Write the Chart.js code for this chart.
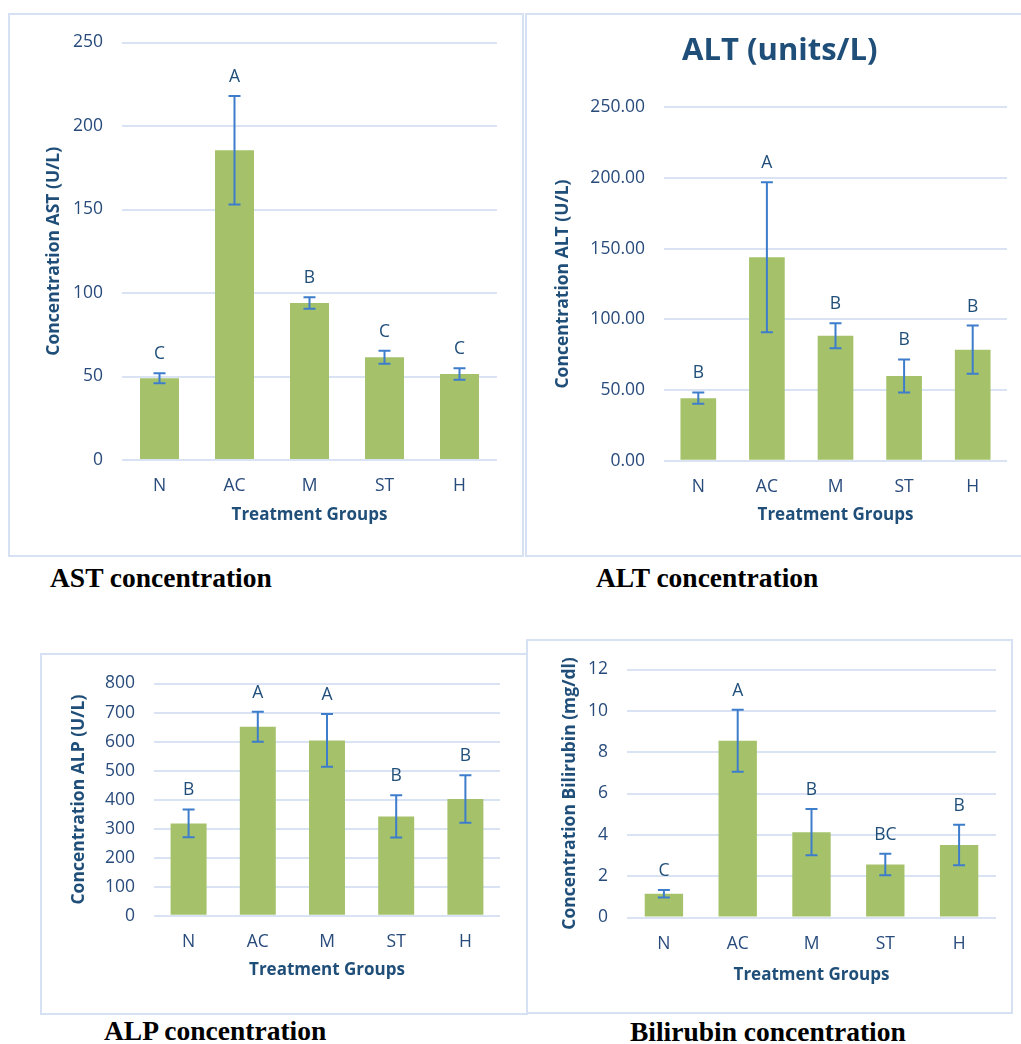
<!DOCTYPE html>
<html>
<head>
<meta charset="utf-8">
<script src="https://cdn.jsdelivr.net/npm/chart.js@4.4.1/dist/chart.umd.min.js"></script>
<style>
  html, body { margin: 0; padding: 0; background: #fff; overflow: hidden; width: 1021px; height: 1044px; }
  .panel { position: absolute; box-sizing: border-box; border: 2px solid #D6E2F3; }
  canvas { position: absolute; }
  .cap { position: absolute; font-family: 'Liberation Serif', 'Times New Roman', serif; font-weight: bold;
         font-size: 27.5px; line-height: 27px; color: #000; white-space: nowrap; }
</style>
</head>
<body>
<div class="panel" style="left:8px;top:13px;width:516px;height:544px"></div>
<div class="panel" style="left:525px;top:13px;width:520px;height:544px"></div>
<div class="panel" style="left:40px;top:653px;width:488px;height:362px"></div>
<div class="panel" style="left:526px;top:639px;width:487px;height:375px"></div>

<canvas id="ast"></canvas>
<canvas id="alt"></canvas>
<canvas id="alp"></canvas>
<canvas id="bili"></canvas>

<div class="cap" style="left:50px;top:564px">AST concentration</div>
<div class="cap" style="left:596px;top:564px">ALT concentration</div>
<div class="cap" style="left:104px;top:1017px">ALP concentration</div>
<div class="cap" style="left:630px;top:1018px">Bilirubin concentration</div>

<script>
// Treatment groups shared by all four panels
const groups = ['N', 'AC', 'M', 'ST', 'H'];

// AST (U/L): group means, error (SD) and significance letters
const astMean    = [49, 185.5, 94, 61.5, 51.5];
const astErr     = [3, 32.5, 3.5, 3.9, 3.4];
const astLetters = ['C', 'A', 'B', 'C', 'C'];
const astTicks   = [0, 50, 100, 150, 200, 250];

// ALT (U/L)
const altMean    = [44.3, 144, 88.4, 60, 78.6];
const altErr     = [4, 53, 8.8, 11.7, 17];
const altLetters = ['B', 'A', 'B', 'B', 'B'];
const altTicks   = [0, 50, 100, 150, 200, 250];

// ALP (U/L)
const alpMean    = [318, 651, 604, 342, 402];
const alpErr     = [48, 52, 91, 73, 82];
const alpLetters = ['B', 'A', 'A', 'B', 'B'];
const alpTicks   = [0, 100, 200, 300, 400, 500, 600, 700, 800];

// Bilirubin (mg/dl)
const biliMean    = [1.15, 8.55, 4.13, 2.56, 3.51];
const biliErr     = [0.18, 1.5, 1.12, 0.52, 0.98];
const biliLetters = ['C', 'A', 'B', 'BC', 'B'];
const biliTicks   = [0, 2, 4, 6, 8, 10, 12];

const FONT = "'Open Sans', sans-serif";
const TEXT = '#1F4E79';
const TICK = '#284B7C';
const GRID = '#D9E3F3';
const BAR  = '#A5C26B';
const ERR  = '#3D7DCB';

const TICK_SIZE = 17.5;
const X_TITLE_SIZE = 17;
const Y_TITLE_SIZE = 17.5;

// Error bars with caps and the letter above each bar
const errorBars = {
  id: 'errorBars',
  afterDatasetsDraw(chart) {
    const ds = chart.data.datasets[0];
    const meta = chart.getDatasetMeta(0);
    const y = chart.scales.y;
    const ctx = chart.ctx;
    ctx.save();
    meta.data.forEach((bar, i) => {
      const m = ds.data[i], e = ds.errors[i];
      const yTop = y.getPixelForValue(m + e);
      const yBot = y.getPixelForValue(m - e);
      const x = bar.x;
      ctx.strokeStyle = ERR;
      ctx.lineWidth = 2;
      ctx.beginPath();
      ctx.moveTo(x, yTop); ctx.lineTo(x, yBot);
      ctx.moveTo(x - 6, yTop); ctx.lineTo(x + 6, yTop);
      ctx.moveTo(x - 6, yBot); ctx.lineTo(x + 6, yBot);
      ctx.stroke();
      ctx.fillStyle = TEXT;
      ctx.font = TICK_SIZE + "px " + FONT;
      ctx.textAlign = 'center';
      ctx.textBaseline = 'middle';
      ctx.fillText(ds.letters[i], x, yTop - 19);
    });
    ctx.restore();
  }
};

function buildChart(id, geo, spec) {
  const [bx, by, bw, bh] = geo.box;
  const l = geo.area[0] - bx, t = geo.area[1] - by, r = geo.area[2] - bx, b = geo.area[3] - by;
  const yLH = Y_TITLE_SIZE * 1.2, xLH = X_TITLE_SIZE * 1.2;
  const scaleLeft = geo.yTitleX - bx - yLH / 2;
  const yWidth = l - scaleLeft;
  const xBottom = geo.xTitleY - by + xLH / 2;
  const xHeight = xBottom - b;

  let padTop = t;
  let titleOpts = { display: false };
  if (geo.title) {
    const lh = geo.title.size * 1.2;
    const cy = geo.title.y - by;
    const pt = cy - lh / 2;
    padTop = 0;
    titleOpts = {
      display: true, text: geo.title.text, color: TEXT,
      font: { family: FONT, size: geo.title.size, weight: 'bold' },
      padding: { top: pt, bottom: t - pt - lh }
    };
  }

  const canvas = document.getElementById(id);
  canvas.width = bw; canvas.height = bh;
  canvas.style.left = bx + 'px'; canvas.style.top = by + 'px';
  canvas.style.width = bw + 'px'; canvas.style.height = bh + 'px';

  return new Chart(canvas, {
    type: 'bar',
    data: {
      labels: groups,
      datasets: [{
        data: spec.mean,
        errors: spec.err,
        letters: spec.letters,
        backgroundColor: BAR,
        borderWidth: 0,
        barPercentage: 0.52,
        categoryPercentage: 1
      }]
    },
    options: {
      responsive: false,
      animation: false,
      devicePixelRatio: 1,
      layout: { padding: { left: scaleLeft, right: bw - r, top: padTop, bottom: bh - xBottom } },
      plugins: {
        legend: { display: false },
        tooltip: { enabled: false },
        title: titleOpts
      },
      scales: {
        x: {
          offset: true,
          grid: { display: false, drawTicks: false },
          border: { display: false },
          ticks: { padding: 16, color: TICK, font: { family: FONT, size: TICK_SIZE } },
          title: { display: true, text: 'Treatment Groups', color: TEXT, padding: 0,
                   font: { family: FONT, size: X_TITLE_SIZE, weight: 'bold' } },
          afterFit: s => { s.height = xHeight; }
        },
        y: {
          min: spec.ticks[0],
          max: spec.ticks[spec.ticks.length - 1],
          grid: { color: GRID, lineWidth: 2, drawTicks: false },
          border: { display: false },
          ticks: {
            padding: 19, color: TICK, font: { family: FONT, size: TICK_SIZE },
            callback: v => Number(v).toFixed(spec.decimals)
          },
          afterBuildTicks: s => { s.ticks = spec.ticks.map(v => ({ value: v })); },
          title: { display: true, text: spec.yTitle, color: TEXT, padding: 0,
                   font: { family: FONT, size: Y_TITLE_SIZE, weight: 'bold' } },
          afterFit: s => { s.width = yWidth; }
        }
      }
    },
    plugins: [errorBars]
  });
}

function drawAll() {
  buildChart('ast',
    { box: [8, 13, 516, 544], area: [122, 38, 497, 460], yTitleX: 54, xTitleY: 515 },
    { mean: astMean, err: astErr, letters: astLetters, ticks: astTicks, decimals: 0,
      yTitle: 'Concentration AST (U/L)' });

  buildChart('alt',
    { box: [526, 13, 506, 544], area: [664, 107.3, 1007, 460.8], yTitleX: 563, xTitleY: 515,
      title: { text: 'ALT (units/L)', size: 31, y: 51 } },
    { mean: altMean, err: altErr, letters: altLetters, ticks: altTicks, decimals: 2,
      yTitle: 'Concentration ALT (U/L)' });

  buildChart('alp',
    { box: [41, 654, 485, 360], area: [154, 677.7, 500, 915.7], yTitleX: 79, xTitleY: 970 },
    { mean: alpMean, err: alpErr, letters: alpLetters, ticks: alpTicks, decimals: 0,
      yTitle: 'Concentration ALP (U/L)' });

  buildChart('bili',
    { box: [527, 640, 485, 373], area: [627, 664.7, 996, 917.5], yTitleX: 570, xTitleY: 975 },
    { mean: biliMean, err: biliErr, letters: biliLetters, ticks: biliTicks, decimals: 0,
      yTitle: 'Concentration Bilirubin (mg/dl)' });
}

Promise.all([
  document.fonts.load("17px 'Open Sans'"),
  document.fonts.load("bold 17px 'Open Sans'"),
  document.fonts.load("bold 27px 'Liberation Serif'")
]).then(drawAll, drawAll);
</script>
</body>
</html>
